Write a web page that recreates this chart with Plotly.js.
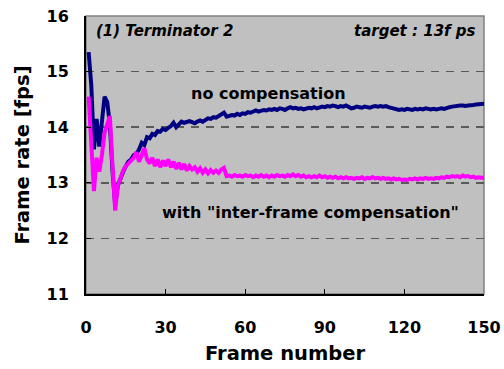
<!DOCTYPE html>
<html>
<head>
<meta charset="utf-8">
<script src="https://cdn.plot.ly/plotly-3.0.1.min.js"></script>
<style>
  html, body { margin: 0; padding: 0; background: #ffffff; }
  #chart { width: 504px; height: 369px; }
</style>
</head>
<body>
<div id="chart"></div>
<script>
// Frame numbers 1..150
const frames = [
  1,2,3,4,5,6,7,8,9,10,11,12,13,14,15,16,17,18,19,20,
  21,22,23,24,25,26,27,28,29,30,31,32,33,34,35,36,37,38,39,40,
  41,42,43,44,45,46,47,48,49,50,51,52,53,54,55,56,57,58,59,60,
  61,62,63,64,65,66,67,68,69,70,71,72,73,74,75,76,77,78,79,80,
  81,82,83,84,85,86,87,88,89,90,91,92,93,94,95,96,97,98,99,100,
  101,102,103,104,105,106,107,108,109,110,111,112,113,114,115,116,117,118,119,120,
  121,122,123,124,125,126,127,128,129,130,131,132,133,134,135,136,137,138,139,140,
  141,142,143,144,145,146,147,148,149,150
];

// Frame rate without compensation [fps]
const noCompensation = [
  15.35,14.75,13.60,14.15,13.65,14.10,14.55,14.45,14.05,13.20,
  12.60,12.95,13.10,13.20,13.30,13.38,13.42,13.50,13.52,13.60,
  13.72,13.68,13.82,13.80,13.88,13.86,13.93,13.92,13.97,13.95,
  13.99,14.02,14.08,14.00,14.05,14.10,14.08,14.10,14.11,14.09,
  14.07,14.10,14.12,14.10,14.14,14.16,14.15,14.18,14.17,14.20,
  14.21,14.26,14.19,14.20,14.22,14.21,14.24,14.22,14.25,14.24,
  14.27,14.26,14.29,14.30,14.28,14.30,14.31,14.30,14.32,14.31,
  14.33,14.31,14.34,14.33,14.31,14.34,14.36,14.34,14.35,14.33,
  14.34,14.32,14.33,14.35,14.34,14.36,14.34,14.35,14.37,14.36,
  14.38,14.37,14.39,14.38,14.36,14.38,14.37,14.39,14.36,14.34,
  14.35,14.37,14.36,14.35,14.37,14.36,14.35,14.37,14.38,14.37,
  14.38,14.37,14.38,14.36,14.35,14.33,14.32,14.31,14.32,14.31,
  14.33,14.32,14.31,14.33,14.32,14.33,14.32,14.34,14.33,14.32,
  14.33,14.32,14.33,14.34,14.33,14.35,14.36,14.37,14.38,14.38,
  14.39,14.39,14.38,14.39,14.39,14.40,14.41,14.41,14.42,14.42
];

// Frame rate with inter-frame compensation [fps]
const withCompensation = [
  14.55,13.60,12.85,13.45,13.20,13.50,13.90,14.05,14.20,13.30,
  12.50,12.95,13.10,13.22,13.30,13.34,13.40,13.45,13.55,13.38,
  13.50,13.62,13.42,13.35,13.45,13.30,13.42,13.28,13.40,13.30,
  13.42,13.28,13.38,13.25,13.36,13.24,13.34,13.22,13.30,13.24,
  13.28,13.20,13.26,13.18,13.24,13.17,13.23,13.18,13.22,13.18,
  13.24,13.27,13.12,13.13,13.11,13.14,13.12,13.13,13.11,13.14,
  13.12,13.13,13.10,13.13,13.11,13.14,13.11,13.13,13.10,13.13,
  13.11,13.14,13.12,13.13,13.11,13.14,13.12,13.15,13.12,13.14,
  13.11,13.13,13.10,13.12,13.10,13.12,13.10,13.13,13.10,13.12,
  13.09,13.11,13.09,13.11,13.08,13.10,13.08,13.10,13.08,13.09,
  13.07,13.09,13.08,13.10,13.07,13.09,13.08,13.10,13.08,13.09,
  13.07,13.09,13.07,13.08,13.06,13.08,13.06,13.07,13.05,13.06,
  13.05,13.07,13.06,13.08,13.06,13.08,13.07,13.09,13.07,13.08,
  13.07,13.09,13.08,13.10,13.09,13.11,13.10,13.12,13.11,13.12,
  13.10,13.13,13.11,13.12,13.10,13.11,13.09,13.10,13.09,13.09
];

const xTicks = [0, 30, 60, 90, 120, 150];
const yTicks = [11, 12, 13, 14, 15, 16];

const FONT = 'DejaVu Sans, Verdana, sans-serif';

const traces = [
  {
    x: frames, y: noCompensation, type: 'scatter', mode: 'lines',
    line: { color: '#000080', width: 4 }, hoverinfo: 'skip'
  },
  {
    x: frames, y: withCompensation, type: 'scatter', mode: 'lines',
    line: { color: '#ff00ff', width: 4 }, hoverinfo: 'skip'
  }
];

const layout = {
  width: 504, height: 369,
  margin: { l: 86, r: 20, t: 16, b: 75 },
  paper_bgcolor: '#ffffff',
  plot_bgcolor: '#c0c0c0',
  showlegend: false,
  font: { family: FONT, color: '#000000' },
  xaxis: {
    range: [0, 150], tickvals: xTicks, ticktext: xTicks.map(v => '<b>' + v + '</b>'),
    ticks: 'inside', ticklen: 5, tickwidth: 1, tickcolor: '#000000',
    ticklabelstandoff: 18,
    showgrid: false, zeroline: false,
    showline: true, linecolor: '#000000', linewidth: 2,
    tickfont: { family: FONT, size: 16, color: '#000000' },
    title: { text: '<b>Frame number</b>', font: { family: FONT, size: 19.5 }, standoff: 10 }
  },
  yaxis: {
    range: [11, 16], tickvals: yTicks, ticktext: yTicks.map(v => '<b>' + v + '</b>'),
    ticks: 'inside', ticklen: 5, tickwidth: 1, tickcolor: '#000000',
    ticklabelstandoff: 12,
    showgrid: true, gridcolor: '#5a5a5a', gridwidth: 1.5, griddash: '8px,7px',
    zeroline: false,
    showline: true, linecolor: '#000000', linewidth: 2,
    tickfont: { family: FONT, size: 16, color: '#000000' },
    title: { text: '<b>Frame rate [fps]</b>', font: { family: FONT, size: 19.5 }, standoff: 12 }
  },
  shapes: [
    { type: 'rect', xref: 'paper', yref: 'paper', x0: 0, x1: 1, y0: 0, y1: 1,
      line: { color: '#808080', width: 1.5 }, fillcolor: 'rgba(0,0,0,0)', layer: 'below' }
  ],
  annotations: [
    { xref: 'paper', yref: 'paper', x: 0.02, y: 0.985, xanchor: 'left', yanchor: 'top',
      text: '<b><i>(1) Terminator 2</i></b>', showarrow: false,
      font: { family: FONT, size: 15, color: '#000000' } },
    { xref: 'paper', yref: 'paper', x: 0.985, y: 0.985, xanchor: 'right', yanchor: 'top',
      text: '<b><i>target : 13f ps</i></b>', showarrow: false,
      font: { family: FONT, size: 15, color: '#000000' } },
    { xref: 'x', yref: 'y', x: 68.8, y: 14.61, xanchor: 'center', yanchor: 'middle',
      text: '<b>no compensation</b>', showarrow: false,
      font: { family: FONT, size: 16, color: '#000000' } },
    { xref: 'x', yref: 'y', x: 84.6, y: 12.47, xanchor: 'center', yanchor: 'middle',
      text: '<b>with "inter-frame compensation"</b>', showarrow: false,
      font: { family: FONT, size: 16, color: '#000000' } }
  ]
};

Plotly.newPlot('chart', traces, layout, { staticPlot: true, displayModeBar: false });
</script>
</body>
</html>
